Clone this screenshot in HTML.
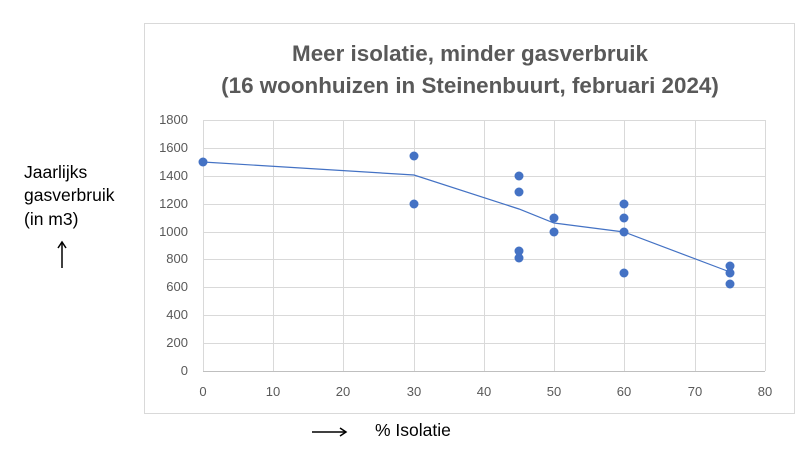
<!DOCTYPE html>
<html><head><style>body{margin:0;background:#fff}svg text{font-family:"Liberation Sans",sans-serif}</style></head><body>
<svg width="809" height="459" xmlns="http://www.w3.org/2000/svg">
<rect x="144.5" y="23.5" width="650" height="390" fill="#fff" stroke="#d9d9d9"/>
<g fill="#595959" font-weight="bold" font-size="22.4" text-anchor="middle">
<text x="470" y="61">Meer isolatie, minder gasverbruik</text>
<text x="470" y="93">(16 woonhuizen in Steinenbuurt, februari 2024)</text>
</g>
<g stroke="#d9d9d9" stroke-width="1">
<line x1="203" x2="765" y1="120.5" y2="120.5"/><line x1="203" x2="765" y1="148.5" y2="148.5"/><line x1="203" x2="765" y1="176.5" y2="176.5"/><line x1="203" x2="765" y1="204.5" y2="204.5"/><line x1="203" x2="765" y1="232.5" y2="232.5"/><line x1="203" x2="765" y1="259.5" y2="259.5"/><line x1="203" x2="765" y1="287.5" y2="287.5"/><line x1="203" x2="765" y1="315.5" y2="315.5"/><line x1="203" x2="765" y1="343.5" y2="343.5"/>
<line y1="120" y2="371" x1="203.5" x2="203.5"/><line y1="120" y2="371" x1="273.5" x2="273.5"/><line y1="120" y2="371" x1="343.5" x2="343.5"/><line y1="120" y2="371" x1="414.5" x2="414.5"/><line y1="120" y2="371" x1="484.5" x2="484.5"/><line y1="120" y2="371" x1="554.5" x2="554.5"/><line y1="120" y2="371" x1="624.5" x2="624.5"/><line y1="120" y2="371" x1="695.5" x2="695.5"/><line y1="120" y2="371" x1="765.5" x2="765.5"/>
</g>
<line x1="203" x2="765" y1="371.5" y2="371.5" stroke="#bfbfbf"/>
<g fill="#595959" font-size="13" text-anchor="end">
<text x="188" y="124">1800</text><text x="188" y="152">1600</text><text x="188" y="180">1400</text><text x="188" y="208">1200</text><text x="188" y="236">1000</text><text x="188" y="263">800</text><text x="188" y="291">600</text><text x="188" y="319">400</text><text x="188" y="347">200</text><text x="188" y="375">0</text>
</g>
<g fill="#595959" font-size="13" text-anchor="middle">
<text x="203" y="396">0</text><text x="273" y="396">10</text><text x="343" y="396">20</text><text x="414" y="396">30</text><text x="484" y="396">40</text><text x="554" y="396">50</text><text x="624" y="396">60</text><text x="695" y="396">70</text><text x="765" y="396">80</text>
</g>
<polyline fill="none" stroke="#4472c4" stroke-width="1.2" points="203,162 414,175 519,209 554,223 624,232 730,272"/>
<g fill="#4472c4">
<circle cx="203" cy="162" r="4.5"/><circle cx="414" cy="156" r="4.5"/><circle cx="414" cy="204" r="4.5"/>
<circle cx="519" cy="176" r="4.5"/><circle cx="519" cy="192" r="4.5"/><circle cx="519" cy="251" r="4.5"/><circle cx="519" cy="258" r="4.5"/>
<circle cx="554" cy="218" r="4.5"/><circle cx="554" cy="232" r="4.5"/>
<circle cx="624" cy="204" r="4.5"/><circle cx="624" cy="218" r="4.5"/><circle cx="624" cy="232" r="4.5"/><circle cx="624" cy="273" r="4.5"/>
<circle cx="730" cy="266" r="4.5"/><circle cx="730" cy="273" r="4.5"/><circle cx="730" cy="284" r="4.5"/>
</g>
<g fill="#000" font-size="17.5">
<text x="24" y="178">Jaarlijks</text><text x="24" y="201">gasverbruik</text><text x="24" y="225">(in m3)</text>
<text x="375" y="436">% Isolatie</text>
</g>
<g stroke="#000" stroke-width="1.5" fill="none">
<line x1="62" y1="243" x2="62" y2="268"/><polyline points="58,248 62,242 66,248"/>
<line x1="312" y1="432" x2="346" y2="432"/><polyline points="340,428 346,432 340,436"/>
</g>
</svg>
</body></html>
